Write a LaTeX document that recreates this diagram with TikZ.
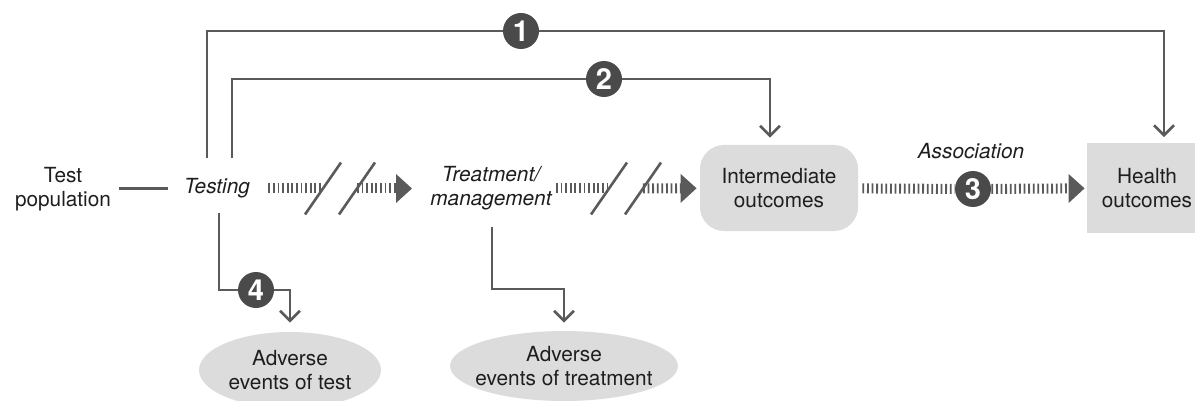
\documentclass[tikz,border=0pt]{standalone}
\usepackage{fontspec}
\setmainfont{TeX Gyre Heros}
\usetikzlibrary{arrows.meta,shapes.geometric,calc}
\definecolor{linegray}{HTML}{5A5A5A}
\definecolor{dotgray}{HTML}{4A4A4A}
\definecolor{boxgray}{HTML}{DCDCDC}
\definecolor{inkgray}{HTML}{1E1E1E}

\begin{document}
\begin{tikzpicture}[x=0.5pt, y=-0.5pt]
	\useasboundingbox (0,0) rectangle (1195,401);
	\tikzstyle{every node}=[align=center, inner sep=0pt, text=inkgray, font=\fontsize{10.4}{12}\selectfont]
	\tikzstyle{link}=[draw=linegray, line width=1.3pt]
	\tikzstyle{down}=[link, -{Straight Barb[length=5pt, width=10pt]}]
	\tikzstyle{ticks}=[draw=linegray, line width=5pt, dash pattern=on 0.9pt off 1.4pt]
	\tikzstyle{hatch}=[ticks, -{Triangle[length=8pt, width=14pt]}]
	\tikzstyle{brk}=[draw=linegray, line width=1.3pt]
	\tikzstyle{num}=[circle, fill=dotgray, minimum size=18pt, text=white, font=\fontsize{14.5}{14.5}\selectfont\bfseries]
	\tikzstyle{blob}=[ellipse, fill=boxgray, inner xsep=-4pt]

	% main row
	\node (pop) at (63,189) {Test\\population};
	\node (testing) at (217,188.5) {\itshape Testing};
	\node (treat) at (491,188.5) {\itshape Treatment/\\\itshape management};
	\node[fill=boxgray, rounded corners=12pt, minimum width=79pt, minimum height=43pt] (inter) at (779,188) {Intermediate\\outcomes};
	\node[fill=boxgray, minimum width=60pt, minimum height=44.5pt] (health) at (1147,188) {Health\\outcomes};
	\node (assoc) at (971,151) {\itshape Association};

	% harms
	\node[blob, minimum width=91pt, minimum height=38pt] (advtest) at (290,370) {Adverse\\events of test};
	\node[blob, minimum width=113.5pt, minimum height=35pt] (advtreat) at (564,366) {Adverse\\events of treatment};

	% numbered links
	\node[num] (n1) at (521,31) {1};
	\node[num] (n2) at (604,79) {2};
	\node[num] (n3) at (973,189) {3};
	\node[num] (n4) at (256,290) {4};

	% breaks in the chain
	\coordinate (b1) at (323,188.5);
	\coordinate (b2) at (357,188.5);
	\coordinate (b3) at (609,188.5);
	\coordinate (b4) at (643,188.5);
	\coordinate (tk) at (530,289);

	\draw[link, shorten <=4pt, shorten >=8pt] (pop.east |- testing) -- (testing);
	\draw[ticks, shorten <=9pt] (testing) -- (b1);
	\draw[hatch, shorten >=9pt] (b2) -- (treat);
	\draw[ticks, shorten <=2pt] (treat) -- (b3);
	\draw[hatch, shorten >=1.5pt] (b4) -- (inter);
	\draw[ticks, shorten <=2pt] (inter) -- (n3);
	\draw[hatch, shorten >=1pt] (n3) -- (health);
	\foreach \b in {b1,b2,b3,b4}
		\draw[brk] ($(\b)+(-18,26)$) -- ($(\b)+(18,-26)$);

	\draw[link, shorten <=10pt] ([xshift=-5pt]testing.north) |- (n1);
	\draw[down, shorten >=3pt] (n1) -| ([xshift=8.5pt]health.north);
	\draw[link, shorten <=10pt] ([xshift=7.5pt]testing.north) |- (n2);
	\draw[down, shorten >=3.5pt] (n2) -| ([xshift=-4.5pt]inter.north);

	\draw[link, shorten <=7pt] ([xshift=1pt]testing.south) |- (n4);
	\draw[down, shorten >=4.5pt] (n4) -| (advtest.north);
	\draw[down, shorten <=8pt, shorten >=4pt] ([xshift=0.5pt]treat.south) |- (tk) -| (advtreat.north);
\end{tikzpicture}
\end{document}
